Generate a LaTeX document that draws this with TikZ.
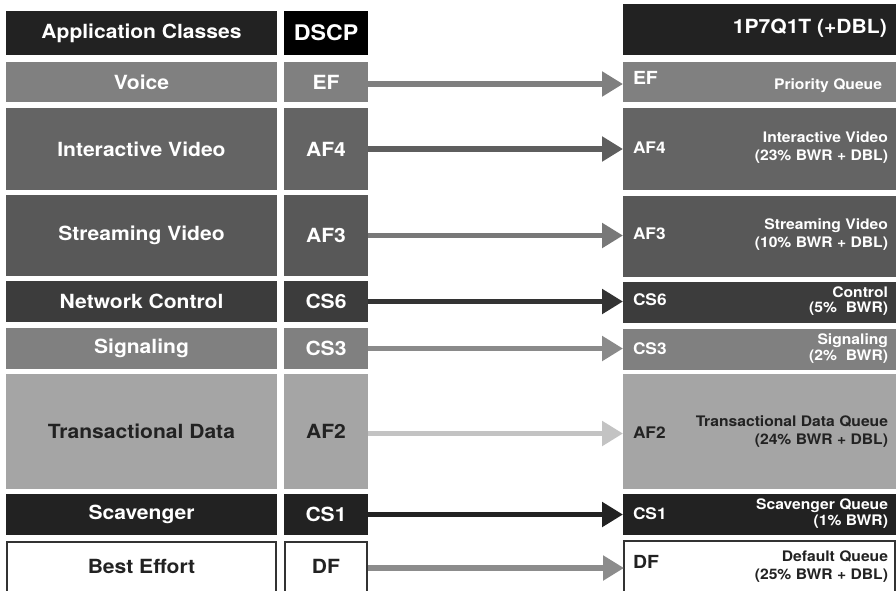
\documentclass[tikz,border=0pt]{standalone}
\usepackage{fontspec}
\setmainfont{TeX Gyre Heros}[FakeStretch=1.08]
\usetikzlibrary{arrows.meta}
\definecolor{cHead}{HTML}{222222}
\definecolor{cVoice}{HTML}{808080}
\definecolor{cIV}{HTML}{646464}
\definecolor{cSV}{HTML}{585858}
\definecolor{cNC}{HTML}{3C3C3C}
\definecolor{cSig}{HTML}{808080}
\definecolor{cTD}{HTML}{A5A5A5}
\definecolor{cScav}{HTML}{222222}
\definecolor{cBord}{HTML}{333333}
\definecolor{aEF}{HTML}{7F7F7F}
\definecolor{aAF4}{HTML}{5E5E5E}
\definecolor{aAF3}{HTML}{787878}
\definecolor{aCS6}{HTML}{333333}
\definecolor{aCS3}{HTML}{8A8A8A}
\definecolor{aAF2}{HTML}{C3C3C3}
\definecolor{aCS1}{HTML}{222222}
\definecolor{aDF}{HTML}{8C8C8C}
\begin{document}
\begin{tikzpicture}[x=1pt,y=-1pt,
  cell/.style={rectangle, inner sep=0pt, outer sep=0pt, anchor=north west,
    text=white, font=\fontsize{19.5}{23}\bfseries},
  appc/.style={cell, minimum width=271pt},
  dscpc/.style={cell, minimum width=84pt},
  qc/.style={cell, minimum width=273pt},
  qlab/.style={inner sep=0pt, outer sep=0pt, anchor=west, text=white,
    font=\fontsize{16}{19}\bfseries},
  qtxt/.style={inner sep=0pt, outer sep=0pt, anchor=east, align=right, text=white,
    font=\fontsize{14.5}{18}\bfseries},
  qtxtt/.style={qtxt, font=\fontsize{14.5}{15.5}\bfseries},
  arr/.style={line width=5.5pt, -{Triangle[length=21pt,width=24pt]}}
]
\useasboundingbox (0,0) rectangle (896,590);
\fill[white] (0,0) rectangle (896,590);

% header
\node[appc, fill=cHead, minimum height=44pt] (hApp) at (6,11) {Application Classes};
\node[dscpc, fill=black, minimum height=44pt, font=\fontsize{21.5}{25}\bfseries] (hD) at (284,11) {DSCP};
\node[qc, fill=cHead, minimum height=51pt] (hQ) at (623,4) {};
\node[inner sep=0pt, anchor=east, text=white, font=\fontsize{19.5}{23}\bfseries] (hQt) at (887,28) {1P7Q1T (+DBL)};

% Voice
\node[appc, fill=cVoice, minimum height=40pt] (aEFn) at (6,62) {Voice};
\node[dscpc, fill=cVoice, minimum height=40pt] (dEF) at (284,62) {EF};
\node[qc, fill=cVoice, minimum height=40pt] (qEF) at (623,62) {};
\node[qlab, font=\fontsize{18}{21}\bfseries] (lEF) at (633,78) {EF};
\node[qtxt] (tEF) at (882,85.5) {Priority Queue};

% Interactive Video
\node[appc, fill=cIV, minimum height=82pt] (aAF4n) at (6,108) {Interactive Video};
\node[dscpc, fill=cIV, minimum height=82pt] (dAF4) at (284,108) {AF4};
\node[qc, fill=cIV, minimum height=82pt] (qAF4) at (623,108) {};
\node[qlab] (lAF4) at (633,148) {AF4};
\node[qtxt] (tAF4) at (888,148) {Interactive Video\\(23\% BWR + DBL)};

% Streaming Video
\node[appc, fill=cSV, minimum height=81pt] (aAF3n) at (6,195) {Streaming Video};
\node[dscpc, fill=cSV, minimum height=81pt] (dAF3) at (284,195) {AF3};
\node[qc, fill=cSV, minimum height=81pt] (qAF3) at (623,196) {};
\node[qlab] (lAF3) at (633,234) {AF3};
\node[qtxt] (tAF3) at (888,235) {Streaming Video\\(10\% BWR + DBL)};

% Network Control
\node[appc, fill=cNC, minimum height=41pt] (aCS6n) at (6,281) {Network Control};
\node[dscpc, fill=cNC, minimum height=41pt] (dCS6) at (284,281) {CS6};
\node[qc, fill=cNC, minimum height=41pt] (qCS6) at (623,282) {};
\node[qlab] (lCS6) at (633,300) {CS6};
\node[qtxtt] (tCS6) at (888,301) {Control\\(5\%\ \ BWR)};

% Signaling
\node[appc, fill=cSig, minimum height=41pt] (aCS3n) at (6,328) {Signaling};
\node[dscpc, fill=cSig, minimum height=41pt] (dCS3) at (284,328) {CS3};
\node[qc, fill=cSig, minimum height=41pt] (qCS3) at (623,329) {};
\node[qlab] (lCS3) at (633,349) {CS3};
\node[qtxtt] (tCS3) at (888,348.5) {Signaling\\(2\%\ \ BWR)};

% Transactional Data
\node[appc, fill=cTD, minimum height=115pt, text=cHead] (aAF2n) at (6,374) {Transactional Data};
\node[dscpc, fill=cTD, minimum height=115pt, text=cHead] (dAF2) at (284,374) {AF2};
\node[qc, fill=cTD, minimum height=115pt] (qAF2) at (623,374) {};
\node[qlab, text=cHead] (lAF2) at (633,433) {AF2};
\node[qtxt, text=cHead] (tAF2) at (888,432) {Transactional Data Queue\\(24\% BWR + DBL)};

% Scavenger
\node[appc, fill=cScav, minimum height=41pt] (aCS1n) at (6,494) {Scavenger};
\node[dscpc, fill=cScav, minimum height=41pt] (dCS1) at (284,494) {CS1};
\node[qc, fill=cScav, minimum height=41pt] (qCS1) at (623,494) {};
\node[qlab] (lCS1) at (633,514) {CS1};
\node[qtxtt] (tCS1) at (888,513.5) {Scavenger Queue\\(1\% BWR)};

% Best Effort
\node[appc, fill=white, draw=cBord, line width=2pt, minimum width=269pt, minimum height=52pt, text=cHead] (aDFn) at (7,542) {};
\node[inner sep=0pt, text=cHead, font=\fontsize{19.5}{23}\bfseries] (aDFt) at (141.5,566) {Best Effort};
\node[dscpc, fill=white, draw=cBord, line width=2pt, minimum width=82pt, minimum height=52pt, text=cHead] (dDF) at (285,542) {};
\node[inner sep=0pt, text=cHead, font=\fontsize{19.5}{23}\bfseries] (dDFt) at (326,566) {DF};
\node[qc, fill=white, draw=cBord, line width=2pt, minimum width=271pt, minimum height=52pt] (qDF) at (624,541) {};
\node[qlab, text=cHead, font=\fontsize{18}{21}\bfseries] (lDF) at (633,562) {DF};
\node[qtxt, text=cHead] (tDF) at (888,567) {Default Queue\\(25\% BWR + DBL)};

% arrows
\draw[arr, aEF]  ([yshift=-2pt]dEF.east)  -- ([yshift=-2pt]dEF.east -| qEF.west);
\draw[arr, aAF4] (dAF4.east) -- (dAF4.east -| qAF4.west);
\draw[arr, aAF3] (dAF3.east) -- (dAF3.east -| qAF3.west);
\draw[arr, aCS6] (dCS6.east) -- (dCS6.east -| qCS6.west);
\draw[arr, aCS3] (dCS3.east) -- (dCS3.east -| qCS3.west);
\draw[arr, aAF2] ([yshift=-2pt]dAF2.east) -- ([yshift=-2pt]dAF2.east -| qAF2.west);
\draw[arr, aCS1] (dCS1.east) -- (dCS1.east -| qCS1.west);
\coordinate (dfs) at (368,568);
\draw[arr, aDF] (dfs) -- (dfs -| qDF.west);
\end{tikzpicture}
\end{document}
